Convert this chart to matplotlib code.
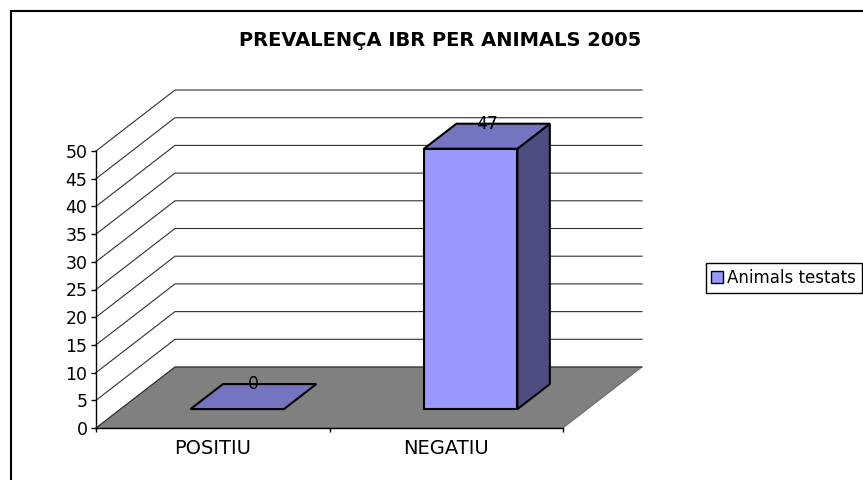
import matplotlib
matplotlib.use("Agg")
import matplotlib.pyplot as plt
from matplotlib.patches import Polygon, Patch, Rectangle

# dades del gràfic
categories = ["POSITIU", "NEGATIU"]
values = [0, 47]
series_name = "Animals testats"
title = "PREVALENÇA IBR PER ANIMALS 2005"
y_ticks = list(range(0, 55, 5))

# colors estil Excel
front_col = "#9999FF"
top_col = "#7474C0"
side_col = "#4D4D80"
floor_col = "#808080"

W, H = 863, 480
fig = plt.figure(figsize=(W / 100, H / 100), dpi=100)

# pla frontal: x 96..563 px, y 428..151 px (des de dalt)
ax = fig.add_axes([96 / W, (H - 428) / H, 467 / W, 277 / H])
ax.set_xlim(0, len(categories))
ax.set_ylim(0, 50)
ax.patch.set_visible(False)

# profunditat en unitats de dades
DX = 79 / 233.5
DY = 61 / 5.54


def P(x, y, d):
    return (x + d * DX, y + d * DY)


# terra
ax.add_patch(Polygon([P(0, 0, 0), P(2, 0, 0), P(2, 0, 1), P(0, 0, 1)],
                     closed=True, facecolor=floor_col, edgecolor="#606060",
                     lw=0.6, clip_on=False, zorder=1))

# línies de quadrícula (paret lateral i paret del fons)
for v in y_ticks:
    xs = [P(0, v, 0)[0], P(0, v, 1)[0], P(2, v, 1)[0]]
    ys = [P(0, v, 0)[1], P(0, v, 1)[1], P(2, v, 1)[1]]
    ax.plot(xs, ys, color="#303030", lw=0.8, clip_on=False, zorder=2)

# barres 3D
d0, d1 = 0.31, 0.72
bw = 0.4
for i, v in enumerate(values):
    xl = i + 0.5 - bw / 2
    xr = i + 0.5 + bw / 2
    if v > 0:
        front = [P(xl, 0, d0), P(xr, 0, d0), P(xr, v, d0), P(xl, v, d0)]
        side = [P(xr, 0, d0), P(xr, 0, d1), P(xr, v, d1), P(xr, v, d0)]
        ax.add_patch(Polygon(front, closed=True, facecolor=front_col,
                             edgecolor="black", lw=1.5, clip_on=False, zorder=4))
        ax.add_patch(Polygon(side, closed=True, facecolor=side_col,
                             edgecolor="black", lw=1.5, clip_on=False, zorder=4))
    top = [P(xl, v, d0), P(xr, v, d0), P(xr, v, d1), P(xl, v, d1)]
    ax.add_patch(Polygon(top, closed=True, facecolor=top_col,
                         edgecolor="black", lw=1.5, clip_on=False, zorder=4))
    # etiqueta de valor
    ax.text(i + 0.5 + 0.515 * DX, v + d1 * DY, str(v), ha="center",
            va="center", fontsize=12.5, zorder=6, clip_on=False)

# eixos
for s in ["top", "right"]:
    ax.spines[s].set_visible(False)
ax.spines["left"].set_linewidth(1)
ax.spines["bottom"].set_linewidth(1)
ax.spines["left"].set_zorder(5)
ax.spines["bottom"].set_zorder(5)
ax.set_yticks(y_ticks)
ax.tick_params(axis="y", direction="out", length=3.6, pad=2.5,
               labelsize=12.5, width=1)
ax.set_xticks([0, 1, 2], labels=["", "", ""])
ax.tick_params(axis="x", which="major", direction="out", length=3, width=1)
ax.set_xticks([0.5, 1.5], labels=categories, minor=True)
ax.tick_params(axis="x", which="minor", length=0, pad=8, labelsize=14)

# títol
fig.text(440.5 / W, (H - 46) / H, title, ha="center", va="baseline",
         fontsize=14, fontweight="bold")

# llegenda
leg = fig.legend(handles=[Patch(facecolor=front_col, edgecolor="black",
                                label=series_name)],
                 loc="center right", bbox_to_anchor=(862 / W, (H - 278) / H),
                 borderaxespad=0, fancybox=False, framealpha=1,
                 edgecolor="black", fontsize=12, handlelength=0.7,
                 handleheight=0.7, handletextpad=0.25, borderpad=0.35)
leg.get_frame().set_linewidth(1)

# vora del gràfic
fig.add_artist(Rectangle((11 / W, -0.1), 1.2, 1 - 11 / H + 0.1,
                         transform=fig.transFigure, fill=False,
                         edgecolor="black", lw=1.5))

fig.savefig("out.png", dpi=100)
